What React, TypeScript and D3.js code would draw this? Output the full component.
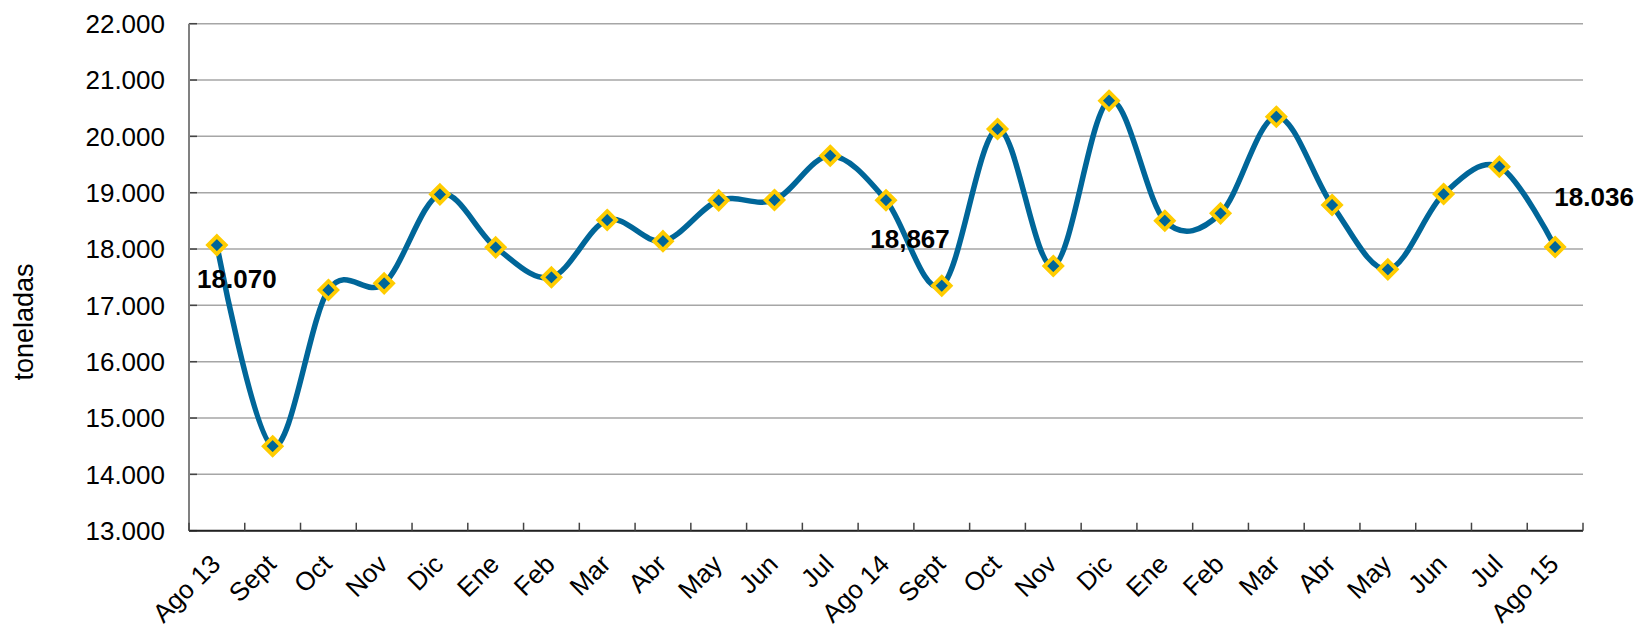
import React from "react";
import * as d3 from "d3";

// monthly values (toneladas)
const categories = [
  "Ago 13", "Sept", "Oct", "Nov", "Dic", "Ene", "Feb", "Mar", "Abr", "May", "Jun", "Jul",
  "Ago 14", "Sept", "Oct", "Nov", "Dic", "Ene", "Feb", "Mar", "Abr", "May", "Jun", "Jul", "Ago 15",
];
const values = [
  18070, 14500, 17272, 17391, 18971, 18030, 17498, 18515, 18140, 18864, 18870, 19656,
  18867, 17349, 20130, 17698, 20633, 18503, 18633, 20349, 18781, 17639, 18976, 19462, 18036,
];
const yTicks = [13000, 14000, 15000, 16000, 17000, 18000, 19000, 20000, 21000, 22000];
const pointLabels = [
  { index: 0, text: "18.070" },
  { index: 12, text: "18,867" },
  { index: 24, text: "18.036" },
];
const yTitle = "toneladas";

const W = 1642;
const H = 626;
const left = 189;
const right = 1583;
const top = 23.7;
const bottom = 530.7;
const FONT = "'Liberation Sans', Arial, sans-serif";
const BLUE = "#006699";
const GOLD = "#FFCC00";

// label offsets from their point (dx, dy to baseline)
const labelOffsets: [number, number][] = [[20, 43], [24, 48], [39, -41]];

export default function App() {
  const x = d3.scaleBand<number>()
    .domain(categories.map((c, i) => i))
    .range([left, right]);
  const y = d3.scaleLinear().domain([13000, 22000]).range([bottom, top]);
  const cx = (i: number) => (x(i) as number) + x.bandwidth() / 2;

  // excel-like smoothing
  const line = d3.line<number>()
    .x((d, i) => cx(i))
    .y(d => y(d))
    .curve(d3.curveCardinal.tension(0));

  const boundaries = categories.map((c, i) => x(i) as number).concat([right]);
  const r = 8.8;
  const diamond = (px: number, py: number) =>
    `M${px},${py - r}L${px + r},${py}L${px},${py + r}L${px - r},${py}Z`;

  const fmtTick = (v: number) => d3.format(",")(v).replace(",", ".");

  return (
    <svg width={W} height={H} style={{position: "absolute", left: 0, top: 0, background: "#fff"}}
         fontFamily={FONT}>
      {/* gridlines */}
      {yTicks.map(t => (
        <line key={t} x1={left} x2={right} y1={y(t)} y2={y(t)} stroke="#a6a6a6" strokeWidth={1.5}/>
      ))}
      {/* y ticks */}
      {yTicks.map(t => (
        <line key={"yt" + t} x1={left} x2={left + 8} y1={y(t)} y2={y(t)} stroke="#444" strokeWidth={1.5}/>
      ))}
      {yTicks.map(t => (
        <text key={"yl" + t} x={165} y={y(t)} dy="0.36em" textAnchor="end" fontSize={26} fill="#000">
          {fmtTick(t)}
        </text>
      ))}
      {/* axes */}
      <line x1={left} x2={left} y1={top} y2={bottom} stroke="#808080" strokeWidth={2}/>
      <line x1={left} x2={right} y1={bottom} y2={bottom} stroke="#222" strokeWidth={2}/>
      {boundaries.map((b, i) => (
        <line key={"xt" + i} x1={b} x2={b} y1={bottom} y2={bottom - 8} stroke="#444" strokeWidth={1.5}/>
      ))}
      {categories.map((c, i) => (
        <text key={"xl" + i} transform={`translate(${cx(i) + 5},${bottom + 35}) rotate(-45)`}
              textAnchor="end" fontSize={26} fill="#000">{c}</text>
      ))}
      <text transform={`translate(33,322) rotate(-90)`} textAnchor="middle" fontSize={27} fill="#000">
        {yTitle}
      </text>
      {/* series */}
      <path d={line(values) || ""} fill="none" stroke={BLUE} strokeWidth={5.5}/>
      {values.map((v, i) => (
        <path key={"m" + i} d={diamond(cx(i), y(v))} fill={BLUE} stroke={GOLD} strokeWidth={3.9}/>
      ))}
      {pointLabels.map((l, k) => (
        <text key={"pl" + k} x={cx(l.index) + labelOffsets[k][0]} y={y(values[l.index]) + labelOffsets[k][1]}
              textAnchor="middle" fontSize={26} fontWeight="bold" fill="#000">{l.text}</text>
      ))}
    </svg>
  );
}
